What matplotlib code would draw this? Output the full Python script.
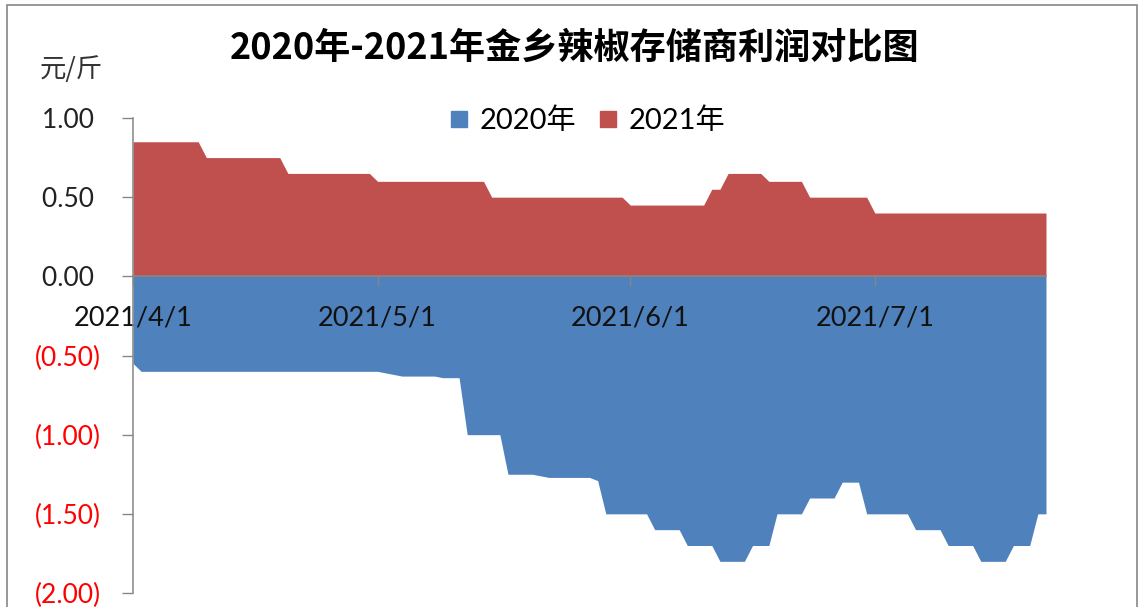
import matplotlib
matplotlib.use('Agg')
import matplotlib.pyplot as plt
import matplotlib.dates as mdates
import matplotlib.patches as mpatches
from matplotlib.lines import Line2D
import pandas as pd

plt.rcParams['font.family'] = ['Lato', 'Noto Sans CJK SC', 'DejaVu Sans']

# 日期（每日）
dates = pd.date_range('2021-04-01', '2021-07-22', freq='D')

# 2021年利润（元/斤）
profit_2021 = (
    [0.85, 0.85, 0.85, 0.85, 0.85, 0.85, 0.85, 0.85, 0.85]
    + [0.75, 0.75, 0.75, 0.75, 0.75, 0.75, 0.75, 0.75, 0.75, 0.75]
    + [0.65, 0.65, 0.65, 0.65, 0.65, 0.65, 0.65, 0.65, 0.65, 0.65, 0.65]
    + [0.60, 0.60, 0.60, 0.60, 0.60, 0.60, 0.60, 0.60, 0.60, 0.60, 0.60, 0.60, 0.60, 0.60]
    + [0.50, 0.50, 0.50, 0.50, 0.50, 0.50, 0.50, 0.50, 0.50, 0.50, 0.50, 0.50, 0.50, 0.50,
       0.50, 0.50, 0.50]
    + [0.45, 0.45, 0.45, 0.45, 0.45, 0.45, 0.45, 0.45, 0.45, 0.45]
    + [0.55, 0.55]
    + [0.65, 0.65, 0.65, 0.65, 0.65]
    + [0.60, 0.60, 0.60, 0.60, 0.60]
    + [0.50, 0.50, 0.50, 0.50, 0.50, 0.50, 0.50, 0.50]
    + [0.40, 0.40, 0.40, 0.40, 0.40, 0.40, 0.40, 0.40, 0.40, 0.40, 0.40, 0.40, 0.40, 0.40,
       0.40, 0.40, 0.40, 0.40, 0.40, 0.40, 0.40, 0.40]
)

# 2020年利润（元/斤）
profit_2020 = (
    [-0.55]
    + [-0.60, -0.60, -0.60, -0.60, -0.60, -0.60, -0.60, -0.60, -0.60, -0.60,
       -0.60, -0.60, -0.60, -0.60, -0.60, -0.60, -0.60, -0.60, -0.60, -0.60,
       -0.60, -0.60, -0.60, -0.60, -0.60, -0.60, -0.60, -0.60, -0.60, -0.60]
    + [-0.61, -0.62]
    + [-0.63, -0.63, -0.63, -0.63, -0.63]
    + [-0.64, -0.64, -0.64]
    + [-1.00, -1.00, -1.00, -1.00, -1.00]
    + [-1.25, -1.25, -1.25, -1.25, -1.26]
    + [-1.27, -1.27, -1.27, -1.27, -1.27, -1.27, -1.29]
    + [-1.50, -1.50, -1.50, -1.50, -1.50, -1.50]
    + [-1.60, -1.60, -1.60, -1.60]
    + [-1.70, -1.70, -1.70, -1.70]
    + [-1.80, -1.80, -1.80, -1.80]
    + [-1.70, -1.70, -1.70]
    + [-1.50, -1.50, -1.50, -1.50]
    + [-1.40, -1.40, -1.40, -1.40]
    + [-1.30, -1.30, -1.30]
    + [-1.50, -1.50, -1.50, -1.50, -1.50, -1.50]
    + [-1.60, -1.60, -1.60, -1.60]
    + [-1.70, -1.70, -1.70, -1.70]
    + [-1.80, -1.80, -1.80, -1.80]
    + [-1.70, -1.70, -1.70]
    + [-1.50, -1.50]
)

y_ticks = [1.0, 0.5, 0.0, -0.5, -1.0, -1.5, -2.0]
x_ticks = ['2021-04-01', '2021-05-01', '2021-06-01', '2021-07-01']

c2020 = '#4F81BD'
c2021 = '#C0504D'
grey = '#868686'

W, H = 1140, 607
fig = plt.figure(figsize=(W / 100, H / 100), dpi=100)
fig.patch.set_facecolor('white')

# 外框
frame = mpatches.Rectangle((7 / W, -0.05), 1130 / W, 1 - 5 / H + 0.05,
                           transform=fig.transFigure, fill=False,
                           edgecolor=grey, linewidth=1.2)
fig.patches.append(frame)

ax = fig.add_axes([133 / W, (H - 593) / H, 913 / W, 475 / H])
ax.fill_between(dates, 0, profit_2020, color=c2020, linewidth=0)
ax.fill_between(dates, 0, profit_2021, color=c2021, linewidth=0)

ax.set_xlim(dates[0], dates[-1])
ax.set_ylim(-2.0, 1.0)

for s in ['top', 'right']:
    ax.spines[s].set_visible(False)
ax.spines['left'].set_color(grey)
ax.spines['left'].set_linewidth(1.1)
ax.spines['bottom'].set_position(('data', 0))
ax.spines['bottom'].set_color(grey)
ax.spines['bottom'].set_linewidth(1.1)
ax.spines['bottom'].set_zorder(3)

ax.set_xticks(pd.to_datetime(x_ticks))
ax.xaxis.set_major_formatter(mdates.DateFormatter('%Y/%-m/%-d'))
ax.tick_params(axis='x', direction='out', length=7, width=1, color=grey,
               labelsize=19.5, pad=14, labelcolor='#111111')

ylabels = []
for v in y_ticks:
    if v < 0:
        ylabels.append('({:.2f})'.format(-v))
    else:
        ylabels.append('{:.2f} '.format(v))
ax.set_yticks(y_ticks)
ax.set_yticklabels(ylabels)
ax.tick_params(axis='y', direction='out', length=8, width=1, color=grey,
               labelsize=19, pad=15)
for lab, v in zip(ax.get_yticklabels(), y_ticks):
    lab.set_color('#FF0000' if v < 0 else '#222222')

# 标题与单位
fig.text(575 / W, 1 - 48 / H, '2020年-2021年金乡辣椒存储商利润对比图',
         ha='center', va='center', fontsize=26, fontweight='bold',
         family=['Noto Sans CJK SC', 'DejaVu Sans'], color='black')
fig.text(40 / W, 1 - 69 / H, '元/斤', ha='left', va='center', fontsize=19,
         family=['Noto Sans CJK SC', 'DejaVu Sans'], color='#333333')

handles = [Line2D([], [], marker='s', linestyle='none', markersize=12,
                  markerfacecolor=c2020, markeredgecolor=c2020, label='2020年'),
           Line2D([], [], marker='s', linestyle='none', markersize=12,
                  markerfacecolor=c2021, markeredgecolor=c2021, label='2021年')]
fig.legend(handles=handles, loc='center', bbox_to_anchor=(585 / W, 1 - 121 / H),
           ncol=2, frameon=False, fontsize=21, handletextpad=0.2,
           columnspacing=0.6, handlelength=1.0)

fig.savefig('out.png', dpi=100, facecolor='white')
